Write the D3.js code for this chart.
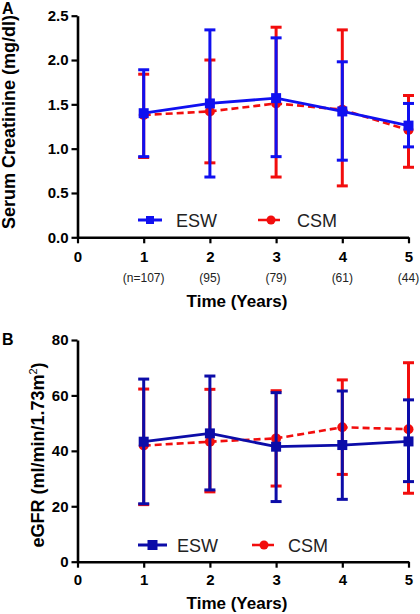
<!DOCTYPE html>
<html>
<head>
<meta charset="utf-8">
<script src="https://cdn.jsdelivr.net/npm/d3@7"></script>
<style>
  html, body { margin: 0; padding: 0; background: #fff; }
  svg { display: block; font-family: "Liberation Sans", Arial, sans-serif; }
</style>
</head>
<body>
<svg id="chart" width="420" height="614"></svg>
<script>
// ---------- DATA ----------
const years = [1, 2, 3, 4, 5];
const xTicks = [0, 1, 2, 3, 4, 5];
const nLabels = ["(n=107)", "(95)", "(79)", "(61)", "(44)"];
const seriesNames = ["ESW", "CSM"];

// Panel A: Serum creatinine (mg/dl)
const creatTicks = [0.0, 0.5, 1.0, 1.5, 2.0, 2.5];
const creatESW = [1.40, 1.51, 1.57, 1.42, 1.26];
const creatESWHi = [1.89, 2.34, 2.25, 1.98, 1.51];
const creatESWLo = [0.91, 0.68, 0.91, 0.87, 1.02];
const creatCSM = [1.38, 1.42, 1.51, 1.44, 1.21];
const creatCSMHi = [1.84, 2.00, 2.37, 2.34, 1.60];
const creatCSMLo = [0.90, 0.84, 0.68, 0.58, 0.79];

// Panel B: eGFR (ml/min/1.73m2)
const gfrTicks = [0, 20, 40, 60, 80];
const gfrESW = [43.3, 46.3, 41.5, 42.1, 43.4];
const gfrESWHi = [65.9, 67.0, 61.0, 61.6, 58.4];
const gfrESWLo = [20.9, 25.9, 21.7, 22.5, 28.9];
const gfrCSM = [41.9, 43.3, 44.5, 48.5, 47.8];
const gfrCSMHi = [62.3, 62.2, 61.7, 65.6, 71.8];
const gfrCSMLo = [20.6, 25.2, 27.3, 31.5, 24.7];

// ---------- DRAW ----------
const svg = d3.select("#chart");
const RED = "#f20d0d";
const x = d3.scaleLinear().domain([0, 5]).range([77.5, 408.5]);

function zip(m, hi, lo) {
  return years.map((yr, i) => ({ yr, m: m[i], hi: hi[i], lo: lo[i] }));
}

function panel(cfg) {
  const g = svg.append("g");
  const y = d3.scaleLinear().domain(cfg.domain).range(cfg.range);

  // axes
  const xa = g.append("g").attr("transform", `translate(0,${cfg.range[0]})`)
    .call(d3.axisBottom(x).tickValues(xTicks).tickSize(6).tickSizeOuter(0)
      .tickPadding(cfg.xPad).tickFormat(d3.format("d")));
  const ya = g.append("g").attr("transform", `translate(${x(0)},0)`)
    .call(d3.axisLeft(y).tickValues(cfg.ticks).tickSize(6).tickSizeOuter(0)
      .tickPadding(3).tickFormat(cfg.fmt));
  [xa, ya].forEach(a => {
    a.select(".domain").attr("stroke", "#000").attr("stroke-width", 2.6);
    a.selectAll(".tick line").attr("stroke", "#000").attr("stroke-width", 2.2);
    a.selectAll(".tick text").attr("fill", "#000").attr("font-size", 15)
      .attr("font-weight", "bold").attr("font-family", "Liberation Sans, Arial, sans-serif");
  });

  const series = [
    { name: seriesNames[1], data: zip(cfg.csm, cfg.csmHi, cfg.csmLo), color: RED, dash: "7,4", shape: "circle" },
    { name: seriesNames[0], data: zip(cfg.esw, cfg.eswHi, cfg.eswLo), color: cfg.blue, dash: null, shape: "square" }
  ];

  series.forEach(s => {
    const sg = g.append("g");
    // error bars
    sg.selectAll(".eb").data(s.data).enter().append("line")
      .attr("x1", d => x(d.yr)).attr("x2", d => x(d.yr))
      .attr("y1", d => y(d.lo)).attr("y2", d => y(d.hi))
      .attr("stroke", s.color).attr("stroke-width", 3);
    ["hi", "lo"].forEach(k => {
      sg.selectAll(".cap" + k).data(s.data).enter().append("line")
        .attr("x1", d => x(d.yr) - 5.5).attr("x2", d => x(d.yr) + 5.5)
        .attr("y1", d => y(d[k])).attr("y2", d => y(d[k]))
        .attr("stroke", s.color).attr("stroke-width", 3);
    });
    // line
    sg.append("path").datum(s.data)
      .attr("d", d3.line().x(d => x(d.yr)).y(d => y(d.m)))
      .attr("fill", "none").attr("stroke", s.color)
      .attr("stroke-width", s.dash ? 2.6 : 2.8)
      .attr("stroke-dasharray", s.dash);
    // markers
    if (s.shape === "circle") {
      sg.selectAll(".pt").data(s.data).enter().append("circle")
        .attr("cx", d => x(d.yr)).attr("cy", d => y(d.m)).attr("r", 5)
        .attr("fill", s.color);
    } else {
      sg.selectAll(".pt").data(s.data).enter().append("rect")
        .attr("x", d => x(d.yr) - 5).attr("y", d => y(d.m) - 5)
        .attr("width", 10).attr("height", 10).attr("fill", s.color);
    }
  });

  // legend
  const L = cfg.legend;
  const lg = g.append("g");
  lg.append("line").attr("x1", L.e[0]).attr("x2", L.e[1]).attr("y1", L.y).attr("y2", L.y)
    .attr("stroke", cfg.blue).attr("stroke-width", 3);
  lg.append("rect").attr("x", (L.e[0] + L.e[1]) / 2 - L.sq / 2).attr("y", L.y - L.sq / 2)
    .attr("width", L.sq).attr("height", L.sq).attr("fill", cfg.blue);
  lg.append("text").attr("x", L.et).attr("y", L.y + 6.5).attr("font-size", 18)
    .attr("fill", "#222").text(seriesNames[0]);
  lg.append("line").attr("x1", L.c[0]).attr("x2", L.c[1]).attr("y1", L.y).attr("y2", L.y)
    .attr("stroke", RED).attr("stroke-width", 2.6).attr("stroke-dasharray", "9,4");
  lg.append("circle").attr("cx", L.cc).attr("cy", L.y).attr("r", 4.5).attr("fill", RED);
  lg.append("text").attr("x", L.ct).attr("y", L.y + 6.5).attr("font-size", 18)
    .attr("fill", "#222").text(seriesNames[1]);

  // axis titles
  g.append("text").attr("x", 237).attr("y", cfg.xTitleY).attr("text-anchor", "middle")
    .attr("font-size", 17).attr("font-weight", "bold").text("Time (Years)");
  const yt = g.append("text")
    .attr("transform", `translate(${cfg.yTitleX},${cfg.yTitleY}) rotate(-90)`)
    .attr("text-anchor", "middle").attr("font-size", 18).attr("font-weight", "bold");
  cfg.yTitle(yt);

  // panel letter
  g.append("text").attr("x", 2).attr("y", cfg.letterY).attr("font-size", 16)
    .attr("font-weight", "bold").text(cfg.letter);
  return { g, y };
}

const pA = panel({
  domain: [0, 2.5], range: [237.3, 15.7], ticks: creatTicks, fmt: d3.format(".1f"),
  esw: creatESW, eswHi: creatESWHi, eswLo: creatESWLo,
  csm: creatCSM, csmHi: creatCSMHi, csmLo: creatCSMLo,
  blue: "#1010f0", xPad: 8,
  legend: { y: 220, e: [138, 162], sq: 8, et: 176, c: [258, 283], cc: 271, ct: 297 },
  xTitleY: 307, yTitleX: 15, yTitleY: 122,
  yTitle: t => t.text("Serum Creatinine (mg/dl)"),
  letter: "A", letterY: 14
});

// n labels under panel A
pA.g.selectAll(".nlab").data(years).enter().append("text")
  .attr("x", d => x(d)).attr("y", 282).attr("text-anchor", "middle")
  .attr("font-size", 12).attr("fill", "#222").text((d, i) => nLabels[i]);

panel({
  domain: [0, 80], range: [561.7, 340], ticks: gfrTicks, fmt: d3.format("d"),
  esw: gfrESW, eswHi: gfrESWHi, eswLo: gfrESWLo,
  csm: gfrCSM, csmHi: gfrCSMHi, csmLo: gfrCSMLo,
  blue: "#0c0ca8", xPad: 6.5,
  legend: { y: 545, e: [138, 167], sq: 10, et: 177, c: [252, 278], cc: 264, ct: 288 },
  xTitleY: 609, yTitleX: 44, yTitleY: 455,
  yTitle: t => {
    t.append("tspan").text("eGFR (ml/min/1.73m");
    t.append("tspan").attr("font-size", 11).attr("font-weight", "normal")
      .attr("dy", -7).text("2");
    t.append("tspan").attr("dy", 7).text(")");
  },
  letter: "B", letterY: 345
});
</script>
</body>
</html>
